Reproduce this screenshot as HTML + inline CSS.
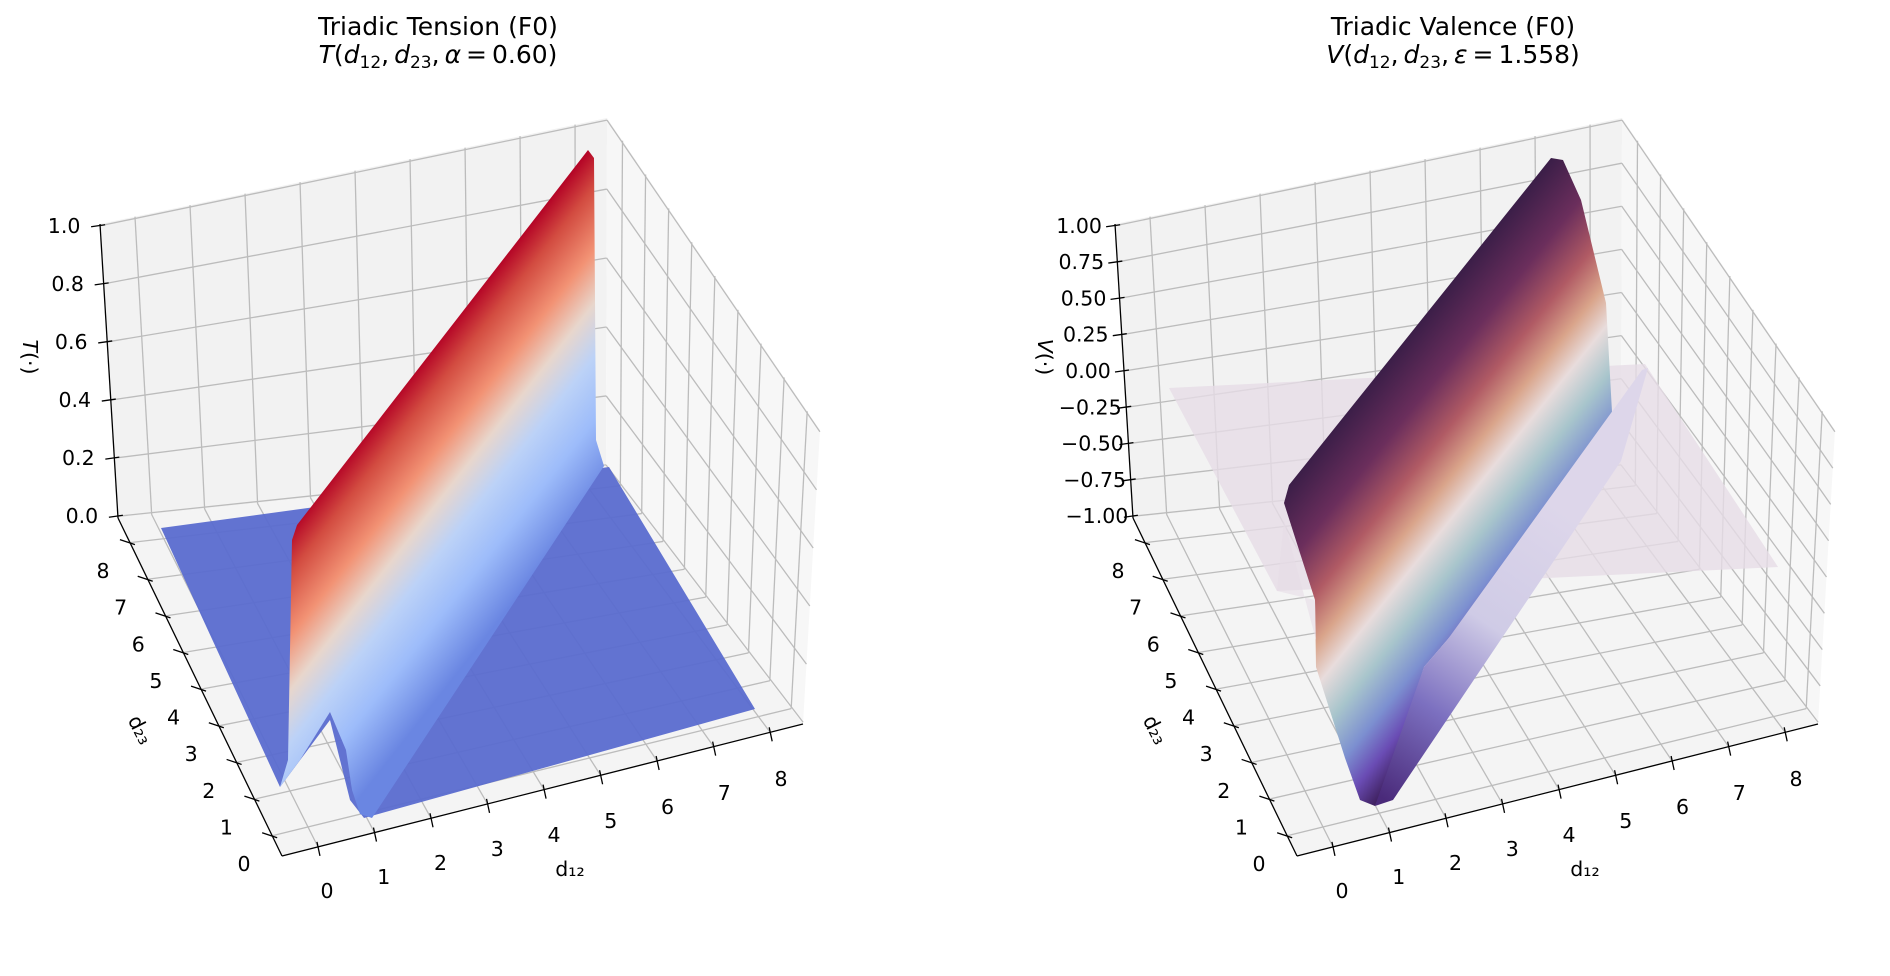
<!DOCTYPE html>
<html><head><meta charset="utf-8">
<style>
html,body{margin:0;padding:0;background:#fff;}
svg{display:block;}
text{font-family:"DejaVu Sans","Liberation Sans",sans-serif;fill:#000;}
</style></head>
<body>
<svg id="s" width="1890" height="976" viewBox="0 0 1890 976" xmlns="http://www.w3.org/2000/svg">
<defs>
<linearGradient id="cw" gradientUnits="userSpaceOnUse" x1="444" y1="334" x2="617" y2="470">
<stop offset="0" stop-color="#b40426"/>
<stop offset="0.12" stop-color="#d24b40"/>
<stop offset="0.3" stop-color="#f29274"/>
<stop offset="0.45" stop-color="#e8d6cc"/>
<stop offset="0.6" stop-color="#bcd2f7"/>
<stop offset="0.78" stop-color="#9dbcfa"/>
<stop offset="1" stop-color="#6a86e2"/>
</linearGradient>
<linearGradient id="tw" gradientUnits="userSpaceOnUse" x1="405" y1="322" x2="614" y2="490">
<stop offset="0" stop-color="#3b1e48"/>
<stop offset="0.18" stop-color="#6b2e5c"/>
<stop offset="0.33" stop-color="#b05a64"/>
<stop offset="0.45" stop-color="#d9a48a"/>
<stop offset="0.55" stop-color="#e8dcdc"/>
<stop offset="0.67" stop-color="#a8c5cc"/>
<stop offset="0.8" stop-color="#7c8fd0"/>
<stop offset="0.9" stop-color="#6a4cb4"/>
<stop offset="1" stop-color="#3d1f5c"/>
</linearGradient>
<linearGradient id="tw2" gradientUnits="userSpaceOnUse" x1="370" y1="800" x2="560" y2="520">
<stop offset="0" stop-color="#4a2a7a"/>
<stop offset="0.3" stop-color="#7c70c0"/>
<stop offset="0.6" stop-color="#cfcbe6"/>
<stop offset="1" stop-color="#ddd6ea"/>
</linearGradient>
</defs>
<g id="L"></g>
<g id="R" transform="translate(1015,0)"></g>
</svg>
<script>
var NS="http://www.w3.org/2000/svg";
function el(p,tag,a,txt){var e=document.createElementNS(NS,tag);for(var k in a)e.setAttribute(k,a[k]);if(txt!==undefined)e.textContent=txt;p.appendChild(e);return e;}
function lerp(a,b,t){return [a[0]+(b[0]-a[0])*t,a[1]+(b[1]-a[1])*t];}
function pts(a){return a.map(function(p){return p[0]+","+p[1];}).join(" ");}
var BTL=[100,224],BTR=[607,118],BBR=[606,467],BBL=[118,518];
var RTF=[820,430],RBF=[803,724],FF=[282,856];
function p12(v){return 0.069+0.1085*v;}
function p23(v){return 0.94-0.1084*v;}
function build(g,zt,zl,isRight){
  el(g,"polygon",{points:pts([BTL,BTR,BBR,BBL]),fill:"#f2f2f2"});
  el(g,"polygon",{points:pts([BTR,RTF,RBF,BBR]),fill:"#f7f7f7"});
  el(g,"polygon",{points:pts([BBL,BBR,RBF,FF]),fill:"#f4f4f4"});
  var gs={stroke:"#bcbcbc","stroke-width":1.3,fill:"none"};
  for(var v=0;v<=8;v++){
    var p=p12(v);
    var f=lerp(FF,RBF,p), b=lerp(BBL,BBR,p), t=lerp(BTL,BTR,p);
    el(g,"line",Object.assign({x1:f[0],y1:f[1],x2:b[0],y2:b[1]},gs));
    el(g,"line",Object.assign({x1:b[0],y1:b[1],x2:t[0],y2:t[1]},gs));
    var q=p23(v);
    var l=lerp(BBL,FF,q), r=lerp(BBR,RBF,q), rt=lerp(BTR,RTF,q);
    el(g,"line",Object.assign({x1:l[0],y1:l[1],x2:r[0],y2:r[1]},gs));
    el(g,"line",Object.assign({x1:r[0],y1:r[1],x2:rt[0],y2:rt[1]},gs));
  }
  for(var i=0;i<zt.length;i++){
    var qz=0.006+0.988*i/(zt.length-1);
    var a=lerp(BBL,BTL,qz), b2=lerp(BBR,BTR,qz), c=lerp(RBF,RTF,qz);
    el(g,"line",Object.assign({x1:a[0],y1:a[1],x2:b2[0],y2:b2[1]},gs));
    el(g,"line",Object.assign({x1:b2[0],y1:b2[1],x2:c[0],y2:c[1]},gs));
  }
  if(!isRight){
    el(g,"polygon",{points:"161,528 609,467 755,709 364,818 350,800 330,720 280,787",fill:"#5a6ccf","fill-opacity":0.95});
    el(g,"polygon",{points:"297,525 588,150 594,158 596,440 604,466 372,818 360,814 352,790 346,750 330,712 300,760 280,787 288,760 292,540",fill:"url(#cw)"});
  } else {
    el(g,"polygon",{points:"154,388 630,364 763,567 262,591",fill:"#e6dce6","fill-opacity":0.8});
    el(g,"polygon",{points:"274,485 536,158 548,160 566,200 591,303 597,412 596,440 433,639 409,667 380,760 360,806 345,800 330,758 301,667 300,600 269,503",fill:"url(#tw)"});
    el(g,"polygon",{points:"360,806 409,667 433,639 627,370 633,368 606,461 378,800",fill:"url(#tw2)"});
    el(g,"polygon",{points:"262,591 300,600 301,640 269,520",fill:"#e6dce6","fill-opacity":0.6});
  }
  var ax={stroke:"#000","stroke-width":1.3};
  el(g,"line",Object.assign({x1:BTL[0],y1:BTL[1],x2:BBL[0],y2:BBL[1]},ax));
  el(g,"line",Object.assign({x1:BBL[0],y1:BBL[1],x2:FF[0],y2:FF[1]},ax));
  el(g,"line",Object.assign({x1:FF[0],y1:FF[1],x2:RBF[0],y2:RBF[1]},ax));
  var fs=20.5;
  for(var i=0;i<zt.length;i++){
    var qz=0.006+0.988*i/(zt.length-1);
    var a=lerp(BBL,BTL,qz);
    el(g,"line",Object.assign({x1:a[0]-9,y1:a[1]+1,x2:a[0]+5,y2:a[1]-1},ax));
    el(g,"text",{x:a[0]-36,y:a[1]+7,"text-anchor":"middle","font-size":fs},zt[i]);
  }
  for(var v=0;v<=8;v++){
    var f=lerp(FF,RBF,p12(v));
    el(g,"line",Object.assign({x1:f[0]-1,y1:f[1]-5,x2:f[0]+2,y2:f[1]+9},ax));
    var lx=327+(781-327)*v/8, ly=891+(779-891)*v/8;
    el(g,"text",{x:lx,y:ly+7,"text-anchor":"middle","font-size":fs},String(v));
    var l=lerp(BBL,FF,p23(v));
    el(g,"line",Object.assign({x1:l[0]-10,y1:l[1]-3,x2:l[0]+5,y2:l[1]+2},ax));
    var tx=244+(103-244)*v/8, ty=864+(571-864)*v/8;
    el(g,"text",{x:tx,y:ty+7,"text-anchor":"middle","font-size":fs},String(v));
  }
  var t1=el(g,"text",{x:0,y:0,"font-size":fs,"text-anchor":"middle",transform:"translate(23,357) rotate(90)"});
  el(t1,"tspan",{"font-style":"italic"},zl);el(t1,"tspan",{},"(·)");
  el(g,"text",{x:0,y:0,"font-size":fs,"text-anchor":"middle",transform:"translate(134,733) rotate(63)"},"d₂₃");
  el(g,"text",{x:570,y:876,"font-size":fs,"text-anchor":"middle"},"d₁₂");
}
build(document.getElementById("L"),["0.0","0.2","0.4","0.6","0.8","1.0"],"T",false);
build(document.getElementById("R"),["−1.00","−0.75","−0.50","−0.25","0.00","0.25","0.50","0.75","1.00"],"V",true);
var s=document.getElementById("s");
function title(cx,l1,sym,par){
  el(s,"text",{x:cx,y:35,"font-size":25,"text-anchor":"middle"},l1);
  var t=el(s,"text",{x:cx,y:63,"font-size":25,"text-anchor":"middle"});
  el(t,"tspan",{"font-style":"italic"},sym);el(t,"tspan",{},"(");
  el(t,"tspan",{"font-style":"italic"},"d");el(t,"tspan",{"font-size":17,dy:5},"12");
  el(t,"tspan",{dy:-5},",\u2009");el(t,"tspan",{"font-style":"italic"},"d");el(t,"tspan",{"font-size":17,dy:5},"23");
  el(t,"tspan",{dy:-5},",\u2009");el(t,"tspan",{"font-style":"italic"},par[0]);el(t,"tspan",{},"\u2009=\u2009"+par[1]+")");
}
title(438,"Triadic Tension (F0)","T",["α","0.60"]);
title(1453,"Triadic Valence (F0)","V",["ε","1.558"]);
</script>
</body></html>
